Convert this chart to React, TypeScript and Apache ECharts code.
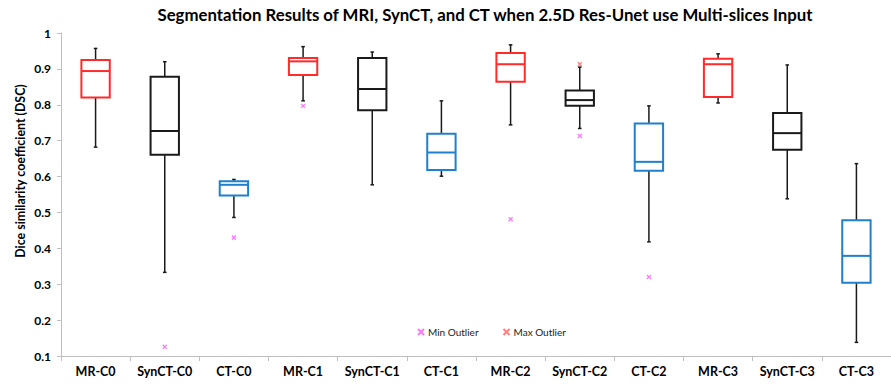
import React, { useEffect, useRef } from "react";
import * as echarts from "echarts";

const categories = [
  "MR-C0", "SynCT-C0", "CT-C0",
  "MR-C1", "SynCT-C1", "CT-C1",
  "MR-C2", "SynCT-C2", "CT-C2",
  "MR-C3", "SynCT-C3", "CT-C3",
];
const whiskerLow = [0.682, 0.333, 0.486, 0.811, 0.577, 0.601, 0.744, 0.734, 0.418, 0.805, 0.538, 0.138];
const q1 = [0.820, 0.661, 0.547, 0.883, 0.785, 0.618, 0.864, 0.797, 0.616, 0.822, 0.675, 0.304];
const median = [0.894, 0.727, 0.577, 0.921, 0.844, 0.667, 0.913, 0.813, 0.641, 0.913, 0.721, 0.379];
const q3 = [0.925, 0.878, 0.587, 0.930, 0.930, 0.719, 0.944, 0.840, 0.748, 0.928, 0.777, 0.478];
const whiskerHigh = [0.957, 0.920, 0.592, 0.962, 0.947, 0.811, 0.967, 0.905, 0.797, 0.942, 0.911, 0.636];

const minOutlierCats = ["SynCT-C0", "CT-C0", "MR-C1", "MR-C2", "SynCT-C2", "CT-C2"];
const minOutlierVals = [0.126, 0.430, 0.797, 0.481, 0.713, 0.320];
const maxOutlierCats = ["SynCT-C2"];
const maxOutlierVals = [0.913];

const yTicks = [0.1, 0.2, 0.3, 0.4, 0.5, 0.6, 0.7, 0.8, 0.9, 1];

const FONT = "Lato, 'Open Sans', sans-serif";

function colorFor(cat: string) {
  if (cat.startsWith("MR")) return "#ff2b2b";
  if (cat.startsWith("CT")) return "#1f80d0";
  return "#1a1a1a";
}

export default function App() {
  const ref = useRef<HTMLDivElement>(null);
  useEffect(() => {
    if (!ref.current) return;
    const chart = echarts.init(ref.current, undefined, { renderer: "svg" });
    const boxData = categories.map((c, i) => [i, whiskerLow[i], q1[i], median[i], q3[i], whiskerHigh[i]]);
    const xPath = "path://M0,0L10,10M0,10L10,0";
    chart.setOption({
      animation: false,
      title: {
        text: "Segmentation Results of MRI, SynCT, and CT when 2.5D Res-Unet use Multi-slices Input",
        left: 480,
        top: 1,
        textAlign: "center",
        textStyle: { fontFamily: FONT, fontWeight: "bold", fontSize: 16.8, color: "#000" },
      },
      graphic: [
        {
          type: "text",
          x: 20,
          y: 171,
          rotation: Math.PI / 2,
          style: {
            text: "Dice similarity coefficient (DSC)",
            fontFamily: FONT,
            fontWeight: "bold",
            fontSize: 12.4,
            fill: "#000",
            align: "center",
            verticalAlign: "middle",
          },
        },
      ],
      legend: {
        left: 412,
        top: 322,
        itemWidth: 6,
        itemHeight: 6,
        itemGap: 24,
        data: ["Min Outlier", "Max Outlier"],
        textStyle: { fontFamily: FONT, fontSize: 10, color: "#222", padding: [0, 0, 0, -1] },
      },
      grid: { left: 61, top: 33, width: 839, bottom: 29 },
      xAxis: {
        type: "category",
        data: categories,
        axisLine: { lineStyle: { color: "#bfbfbf", width: 1 } },
        axisTick: { show: true, length: 5, lineStyle: { color: "#bfbfbf" } },
        axisLabel: { interval: 0, hideOverlap: false, fontFamily: FONT, fontWeight: "bold", fontSize: 12.5, color: "#000", margin: 9 },
        splitLine: { show: false },
      },
      yAxis: {
        type: "value",
        min: yTicks[0],
        max: yTicks[yTicks.length - 1],
        interval: 0.1,
        axisLine: { show: true, lineStyle: { color: "#bfbfbf", width: 1 } },
        axisTick: { show: true, length: 4, lineStyle: { color: "#bfbfbf" } },
        axisLabel: {
          fontFamily: FONT, fontWeight: "bold", fontSize: 12, color: "#000", margin: 10,
          formatter: (v: number) => String(Math.round(v * 10) / 10),
        },
        splitLine: { show: false },
      },
      series: [
        {
          type: "custom",
          name: "boxes",
          encode: { x: 0, y: [1, 2, 3, 4, 5] },
          data: boxData,
          renderItem: (params: any, api: any) => {
            const idx = api.value(0);
            const cat = categories[idx];
            const col = colorFor(cat);
            const pLow = api.coord([idx, api.value(1)]);
            const pQ1 = api.coord([idx, api.value(2)]);
            const pMed = api.coord([idx, api.value(3)]);
            const pQ3 = api.coord([idx, api.value(4)]);
            const pHigh = api.coord([idx, api.value(5)]);
            const cx = pLow[0];
            const bw = api.size([1, 0])[0] * 0.41;
            const wStyle = { stroke: "#1a1a1a", lineWidth: 1.5 };
            const cap = 1.8;
            return {
              type: "group",
              children: [
                { type: "line", shape: { x1: cx, y1: pHigh[1], x2: cx, y2: pQ3[1] }, style: wStyle },
                { type: "line", shape: { x1: cx, y1: pQ1[1], x2: cx, y2: pLow[1] }, style: wStyle },
                { type: "line", shape: { x1: cx - cap, y1: pHigh[1], x2: cx + cap, y2: pHigh[1] }, style: wStyle },
                { type: "line", shape: { x1: cx - cap, y1: pLow[1], x2: cx + cap, y2: pLow[1] }, style: wStyle },
                {
                  type: "rect",
                  shape: { x: cx - bw / 2, y: pQ3[1], width: bw, height: pQ1[1] - pQ3[1] },
                  style: { fill: "#fff", stroke: col, lineWidth: 2 },
                },
                { type: "line", shape: { x1: cx - bw / 2, y1: pMed[1], x2: cx + bw / 2, y2: pMed[1] }, style: { stroke: col, lineWidth: 2 } },
              ],
            };
          },
          z: 2,
        },
        {
          type: "scatter",
          name: "Min Outlier",
          symbol: xPath,
          symbolSize: 4,
          itemStyle: { color: "transparent", borderColor: "#ff55ff", borderWidth: 1.3 },
          data: minOutlierCats.map((c, i) => [c, minOutlierVals[i]]),
          z: 3,
        },
        {
          type: "scatter",
          name: "Max Outlier",
          symbol: xPath,
          symbolSize: 4,
          itemStyle: { color: "transparent", borderColor: "#ff5e5e", borderWidth: 1.3 },
          data: maxOutlierCats.map((c, i) => [c, maxOutlierVals[i]]),
          z: 4,
        },
      ],
    });
    return () => chart.dispose();
  }, []);
  return <div ref={ref} style={{ width: 891, height: 385, position: "absolute", left: 0, top: 0 }} />;
}
